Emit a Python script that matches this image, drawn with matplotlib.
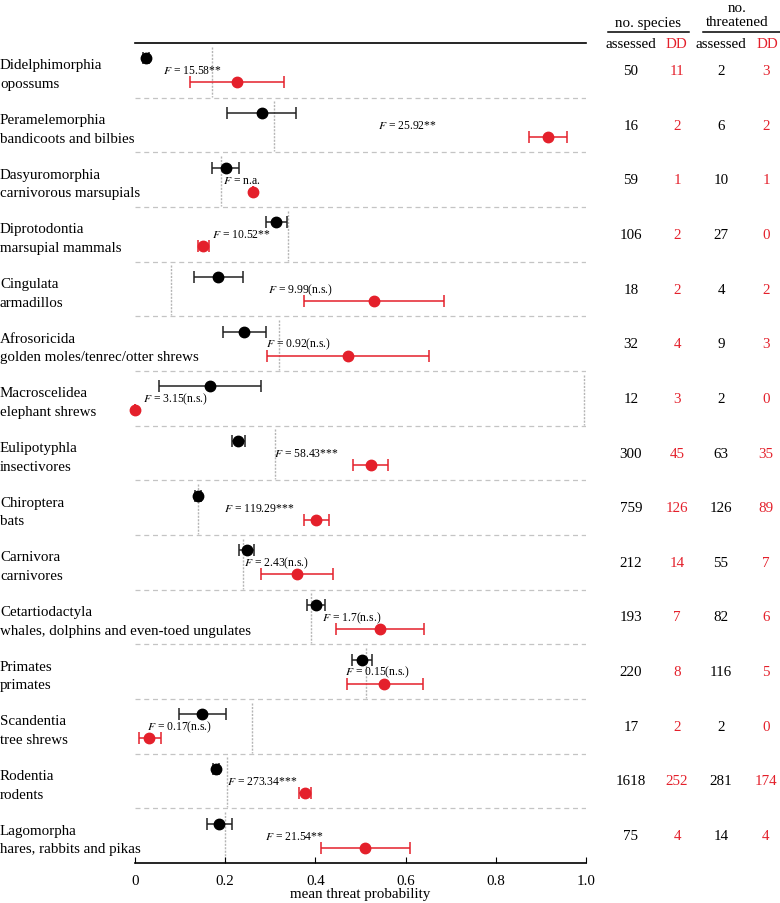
import numpy as np
import matplotlib.pyplot as plt
from matplotlib import transforms

plt.rcParams['font.family'] = ['Liberation Serif', 'DejaVu Serif']
plt.rcParams['mathtext.fontset'] = 'stix'

# orders and common names
orders = ["Didelphimorphia", "Peramelemorphia", "Dasyuromorphia", "Diprotodontia",
          "Cingulata", "Afrosoricida", "Macroscelidea", "Eulipotyphla", "Chiroptera",
          "Carnivora", "Cetartiodactyla", "Primates", "Scandentia", "Rodentia", "Lagomorpha"]
common = ["opossums", "bandicoots and bilbies", "carnivorous marsupials", "marsupial mammals",
          "armadillos", "golden moles/tenrec/otter shrews", "elephant shrews", "insectivores",
          "bats", "carnivores", "whales, dolphins and even-toed ungulates", "primates",
          "tree shrews", "rodents", "hares, rabbits and pikas"]

# assessed species (black): mean, lower, upper
ass_mean = [0.024, 0.282, 0.201, 0.313, 0.184, 0.242, 0.166, 0.229, 0.140, 0.248, 0.401, 0.503, 0.148, 0.180, 0.186]
ass_lo = [0.018, 0.204, 0.171, 0.290, 0.131, 0.195, 0.054, 0.215, 0.134, 0.230, 0.382, 0.481, 0.097, 0.174, 0.159]
ass_hi = [0.030, 0.357, 0.230, 0.337, 0.240, 0.290, 0.279, 0.244, 0.146, 0.264, 0.422, 0.525, 0.202, 0.186, 0.215]

# data deficient species (red): mean, lower, upper
dd_mean = [0.226, 0.916, 0.261, 0.151, 0.530, 0.472, 0.0, 0.523, 0.402, 0.359, 0.543, 0.552, 0.031, 0.377, 0.510]
dd_lo = [0.122, 0.874, 0.261, 0.140, 0.375, 0.293, 0.0, 0.484, 0.374, 0.279, 0.446, 0.470, 0.008, 0.364, 0.412]
dd_hi = [0.330, 0.958, 0.261, 0.164, 0.685, 0.652, 0.0, 0.561, 0.430, 0.439, 0.641, 0.638, 0.057, 0.390, 0.609]

# grey reference line per order
ref = [0.171, 0.308, 0.190, 0.340, 0.080, 0.319, 0.995, 0.310, 0.140, 0.240, 0.390, 0.512, 0.260, 0.204, 0.200]

# F statistics and label x position
f_text = ["15.58**", "25.92**", "n.a.", "10.52**", "9.99(n.s.)", "0.92(n.s.)", "3.15(n.s.)",
          "58.43***", "119.29***", "2.43(n.s.)", "1.7(n.s.)", "0.15(n.s.)", "0.17(n.s.)",
          "273.34***", "21.54**"]
f_x = [0.062, 0.538, 0.195, 0.171, 0.295, 0.290, 0.018, 0.308, 0.197, 0.241, 0.415, 0.466,
       0.026, 0.204, 0.288]

# table counts
n_assessed = [50, 16, 59, 106, 18, 32, 12, 300, 759, 212, 193, 220, 17, 1618, 75]
n_dd = [11, 2, 1, 2, 2, 4, 3, 45, 126, 14, 7, 8, 2, 252, 4]
thr_assessed = [2, 6, 10, 27, 4, 9, 2, 63, 126, 55, 82, 116, 2, 281, 14]
thr_dd = [3, 2, 1, 0, 2, 3, 0, 35, 89, 7, 6, 5, 0, 174, 4]

red = '#e4202b'
fs = 10.8
W, H = 780, 904
fig = plt.figure(figsize=(W / 100, H / 100), dpi=100)
ax = fig.add_axes([135 / W, 1 - 864 / H, (586 - 135) / W, (864 - 44) / H])

n = len(orders)
rows = np.arange(n)
y_black = rows + 0.28
y_red = rows + 0.72

for i in range(n):
    ax.plot([ref[i], ref[i]], [i + 0.07, i + 0.98], color='#b5b5b5', lw=1.0,
            ls=(0, (1.5, 1)), zorder=1)
for i in range(1, n):
    ax.axhline(i, color='#c4c4c4', lw=0.9, ls=(0, (4, 3)), zorder=1)

ax.errorbar(ass_mean, y_black,
            xerr=[np.array(ass_mean) - np.array(ass_lo), np.array(ass_hi) - np.array(ass_mean)],
            fmt='o', color='black', ecolor='#222222', ms=7.5, capsize=4, elinewidth=1.1,
            capthick=1.1, zorder=3, clip_on=False)
ax.errorbar(dd_mean, y_red,
            xerr=[np.array(dd_mean) - np.array(dd_lo), np.array(dd_hi) - np.array(dd_mean)],
            fmt='o', color=red, ecolor=red, ms=7.5, capsize=4, elinewidth=1.1,
            capthick=1.1, zorder=3, clip_on=False)

for i in range(n):
    ax.text(f_x[i], i + 0.5, r'$F$ = ' + f_text[i], fontsize=8.4, va='center', ha='left', zorder=4)

ax.set_xlim(0, 1)
ax.set_ylim(n, 0)
ax.set_yticks([])
ax.set_xticks([0, 0.2, 0.4, 0.6, 0.8, 1.0])
ax.set_xticklabels(['0', '0.2', '0.4', '0.6', '0.8', '1.0'])
ax.tick_params(axis='x', direction='in', length=4, labelsize=fs, pad=8)
ax.set_xlabel('mean threat probability', fontsize=fs, labelpad=0)
for s in ['left', 'right']:
    ax.spines[s].set_visible(False)
ax.spines['top'].set_linewidth(1.2)
ax.spines['bottom'].set_linewidth(1.2)

# left labels and right table (x in figure fraction, y in data)
tr = transforms.blended_transform_factory(fig.transFigure, ax.transData)
for i in range(n):
    ax.text(0.0, i + 0.40, orders[i], transform=tr, fontsize=fs, va='center', ha='left', clip_on=False)
    ax.text(0.0, i + 0.74, common[i], transform=tr, fontsize=fs, va='center', ha='left', clip_on=False)
    ax.text(631 / W, i + 0.5, str(n_assessed[i]), transform=tr, fontsize=fs, va='center', ha='center')
    ax.text(677 / W, i + 0.5, str(n_dd[i]), transform=tr, fontsize=fs, va='center', ha='center', color=red)
    ax.text(721 / W, i + 0.5, str(thr_assessed[i]), transform=tr, fontsize=fs, va='center', ha='center')
    ax.text(766 / W, i + 0.5, str(thr_dd[i]), transform=tr, fontsize=fs, va='center', ha='center', color=red)

fig.text(648 / W, 1 - 23 / H, 'no. species', fontsize=fs, ha='center', va='center')
fig.text(737 / W, 1 - 8 / H, 'no.', fontsize=fs, ha='center', va='center')
fig.text(737 / W, 1 - 23 / H, 'threatened', fontsize=fs, ha='center', va='center')
fig.add_artist(plt.Line2D([608 / W, 689 / W], [1 - 33 / H, 1 - 33 / H], color='black', lw=1.1))
fig.add_artist(plt.Line2D([703 / W, 780 / W], [1 - 33 / H, 1 - 33 / H], color='black', lw=1.1))
fig.text(631 / W, 1 - 45 / H, 'assessed', fontsize=fs, ha='center', va='center')
fig.text(676 / W, 1 - 45 / H, 'DD', fontsize=fs, ha='center', va='center', color=red)
fig.text(721 / W, 1 - 45 / H, 'assessed', fontsize=fs, ha='center', va='center')
fig.text(767 / W, 1 - 45 / H, 'DD', fontsize=fs, ha='center', va='center', color=red)

fig.savefig('out.png', dpi=100)
